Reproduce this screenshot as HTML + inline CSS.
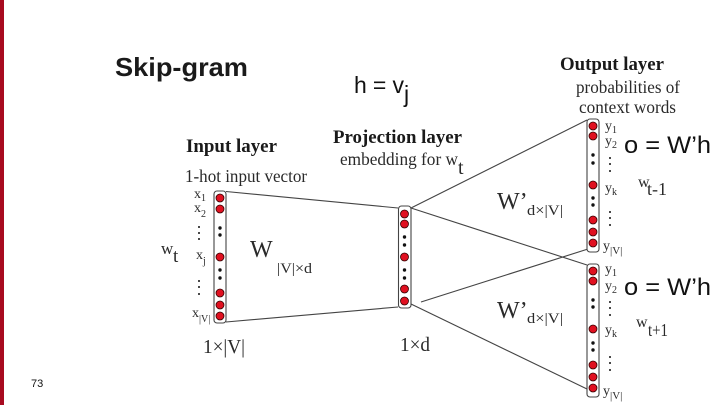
<!DOCTYPE html>
<html><head><meta charset="utf-8"><style>
html,body{margin:0;padding:0;background:#fff;width:720px;height:405px;overflow:hidden}
svg{display:block}
text{font-family:"Liberation Serif",serif;fill:#2a2a2a}
.s{font-family:"Liberation Sans",sans-serif;fill:#111}
.b{font-weight:bold;fill:#1a1a1a}
.l{stroke:#444;stroke-width:1.1;fill:none}
.r{fill:#fff;stroke:#444;stroke-width:1.1}
.d{fill:#e01020;stroke:#300;stroke-width:.8}
</style></head><body>
<svg width="720" height="405" viewBox="0 0 720 405" xmlns="http://www.w3.org/2000/svg">
<rect x="0" y="0" width="4" height="405" fill="#a80a20"/>
<text class="s b" x="115" y="76" font-size="26" textLength="133" lengthAdjust="spacingAndGlyphs">Skip-gram</text>
<text class="s" x="354" y="93" font-size="23" textLength="50">h = v</text>
<text class="s" x="404" y="102" font-size="23">j</text>
<text class="s" x="624" y="153" font-size="24" textLength="87" lengthAdjust="spacingAndGlyphs">o = W’h</text>
<text class="s" x="624" y="295" font-size="24" textLength="87" lengthAdjust="spacingAndGlyphs">o = W’h</text>
<text class="s" x="31" y="387" font-size="11">73</text>

<path class="l" d="M226 191.5L398 208M226 322L398 307M411 208L587 120M411 208L587 265M421 302L588 249M411 304L587 389"/>

<rect class="r" x="214" y="191" width="12" height="132" rx="3"/>
<rect class="r" x="398.500" y="206" width="12.500" height="102" rx="3"/>
<rect class="r" x="587" y="119" width="12" height="133" rx="3"/>
<rect class="r" x="587" y="264" width="12" height="133" rx="3"/>

<g class="d">
<circle cx="220" cy="198" r="4"/><circle cx="220" cy="209" r="4"/><circle cx="220" cy="257" r="4"/><circle cx="220" cy="293" r="4"/><circle cx="220" cy="305" r="4"/><circle cx="220" cy="316" r="4"/>
<circle cx="404.500" cy="214" r="4"/><circle cx="404.500" cy="224" r="4"/><circle cx="404.500" cy="257" r="4"/><circle cx="404.500" cy="289" r="4"/><circle cx="404.500" cy="301" r="4"/>
<circle cx="593" cy="126" r="4"/><circle cx="593" cy="136" r="4"/><circle cx="593" cy="185" r="4"/><circle cx="593" cy="220" r="4"/><circle cx="593" cy="232" r="4"/><circle cx="593" cy="243" r="4"/>
<circle cx="593" cy="271" r="4"/><circle cx="593" cy="281" r="4"/><circle cx="593" cy="329" r="4"/><circle cx="593" cy="365" r="4"/><circle cx="593" cy="377" r="4"/><circle cx="593" cy="388" r="4"/>
</g>
<g fill="#111">
<circle cx="220" cy="228" r="1.700"/><circle cx="220" cy="235" r="1.700"/><circle cx="220" cy="270" r="1.700"/><circle cx="220" cy="278" r="1.700"/>
<circle cx="404.500" cy="237" r="1.700"/><circle cx="404.500" cy="245" r="1.700"/><circle cx="404.500" cy="270" r="1.700"/><circle cx="404.500" cy="278" r="1.700"/>
<circle cx="593" cy="155" r="1.700"/><circle cx="593" cy="163" r="1.700"/><circle cx="593" cy="198" r="1.700"/><circle cx="593" cy="205" r="1.700"/>
<circle cx="593" cy="300" r="1.700"/><circle cx="593" cy="307" r="1.700"/><circle cx="593" cy="343" r="1.700"/><circle cx="593" cy="350" r="1.700"/>
<circle cx="199" cy="227" r="1"/><circle cx="199" cy="233" r="1"/><circle cx="199" cy="239" r="1"/>
<circle cx="199" cy="281" r="1"/><circle cx="199" cy="287" r="1"/><circle cx="199" cy="294" r="1"/>
<circle cx="610" cy="158" r="1"/><circle cx="610" cy="164" r="1"/><circle cx="610" cy="171" r="1"/>
<circle cx="610" cy="212" r="1"/><circle cx="610" cy="218" r="1"/><circle cx="610" cy="225" r="1"/>
<circle cx="610" cy="302" r="1"/><circle cx="610" cy="308" r="1"/><circle cx="610" cy="315" r="1"/>
<circle cx="610" cy="357" r="1"/><circle cx="610" cy="363" r="1"/><circle cx="610" cy="370" r="1"/>
</g>

<g lengthAdjust="spacingAndGlyphs">
<text class="b" x="186" y="152" font-size="18.500" textLength="91" lengthAdjust="spacingAndGlyphs">Input layer</text>
<text x="185" y="182" font-size="17.500" textLength="122" lengthAdjust="spacingAndGlyphs">1-hot input vector</text>
<text class="b" x="333" y="143" font-size="18.500" textLength="129" lengthAdjust="spacingAndGlyphs">Projection layer</text>
<text x="340" y="165" font-size="17.500" textLength="118" lengthAdjust="spacingAndGlyphs">embedding for w</text>
<text x="458" y="174" font-size="20">t</text>
<text class="b" x="560" y="70" font-size="18.500" textLength="104" lengthAdjust="spacingAndGlyphs">Output layer</text>
<text x="576" y="93" font-size="17.500" textLength="104" lengthAdjust="spacingAndGlyphs">probabilities of</text>
<text x="579" y="113" font-size="17.500" textLength="97" lengthAdjust="spacingAndGlyphs">context words</text>
</g>

<g font-size="14">
<text x="194" y="198">x</text><text x="201" y="201" font-size="10">1</text>
<text x="194" y="212">x</text><text x="201" y="217" font-size="10">2</text>
<text x="196" y="259">x</text><text x="203" y="264" font-size="10">j</text>
<text x="192" y="317">x</text><text x="199" y="322" font-size="10">|V|</text>
<text x="605" y="130">y</text><text x="612" y="133" font-size="10">1</text>
<text x="605" y="145">y</text><text x="612" y="148" font-size="10">2</text>
<text x="605" y="192">y</text><text x="612" y="195" font-size="10">k</text>
<text x="603" y="250">y</text><text x="610" y="254" font-size="11">|V|</text>
<text x="605" y="273">y</text><text x="612" y="276" font-size="10">1</text>
<text x="605" y="290">y</text><text x="612" y="293" font-size="10">2</text>
<text x="605" y="334">y</text><text x="612" y="337" font-size="10">k</text>
<text x="603" y="395">y</text><text x="610" y="399" font-size="11">|V|</text>
</g>

<text x="161" y="254" font-size="17">w</text><text x="173" y="262" font-size="19">t</text>
<text x="250" y="257" font-size="24">W</text>
<text x="277" y="273" font-size="15" textLength="35" lengthAdjust="spacingAndGlyphs">|V|×d</text>
<text x="203" y="353" font-size="20" textLength="42" lengthAdjust="spacingAndGlyphs">1×|V|</text>
<text x="400" y="351" font-size="20" textLength="30" lengthAdjust="spacingAndGlyphs">1×d</text>
<text x="497" y="209" font-size="24">W’</text>
<text x="527" y="215" font-size="15" textLength="36" lengthAdjust="spacingAndGlyphs">d×|V|</text>
<text x="497" y="318" font-size="24">W’</text>
<text x="527" y="323" font-size="15" textLength="36" lengthAdjust="spacingAndGlyphs">d×|V|</text>
<text x="638" y="187" font-size="16">w</text><text x="647" y="195" font-size="18" textLength="20" lengthAdjust="spacingAndGlyphs">t-1</text>
<text x="636" y="327" font-size="16">w</text><text x="648" y="336" font-size="18" textLength="20" lengthAdjust="spacingAndGlyphs">t+1</text>
</svg>
</body></html>
